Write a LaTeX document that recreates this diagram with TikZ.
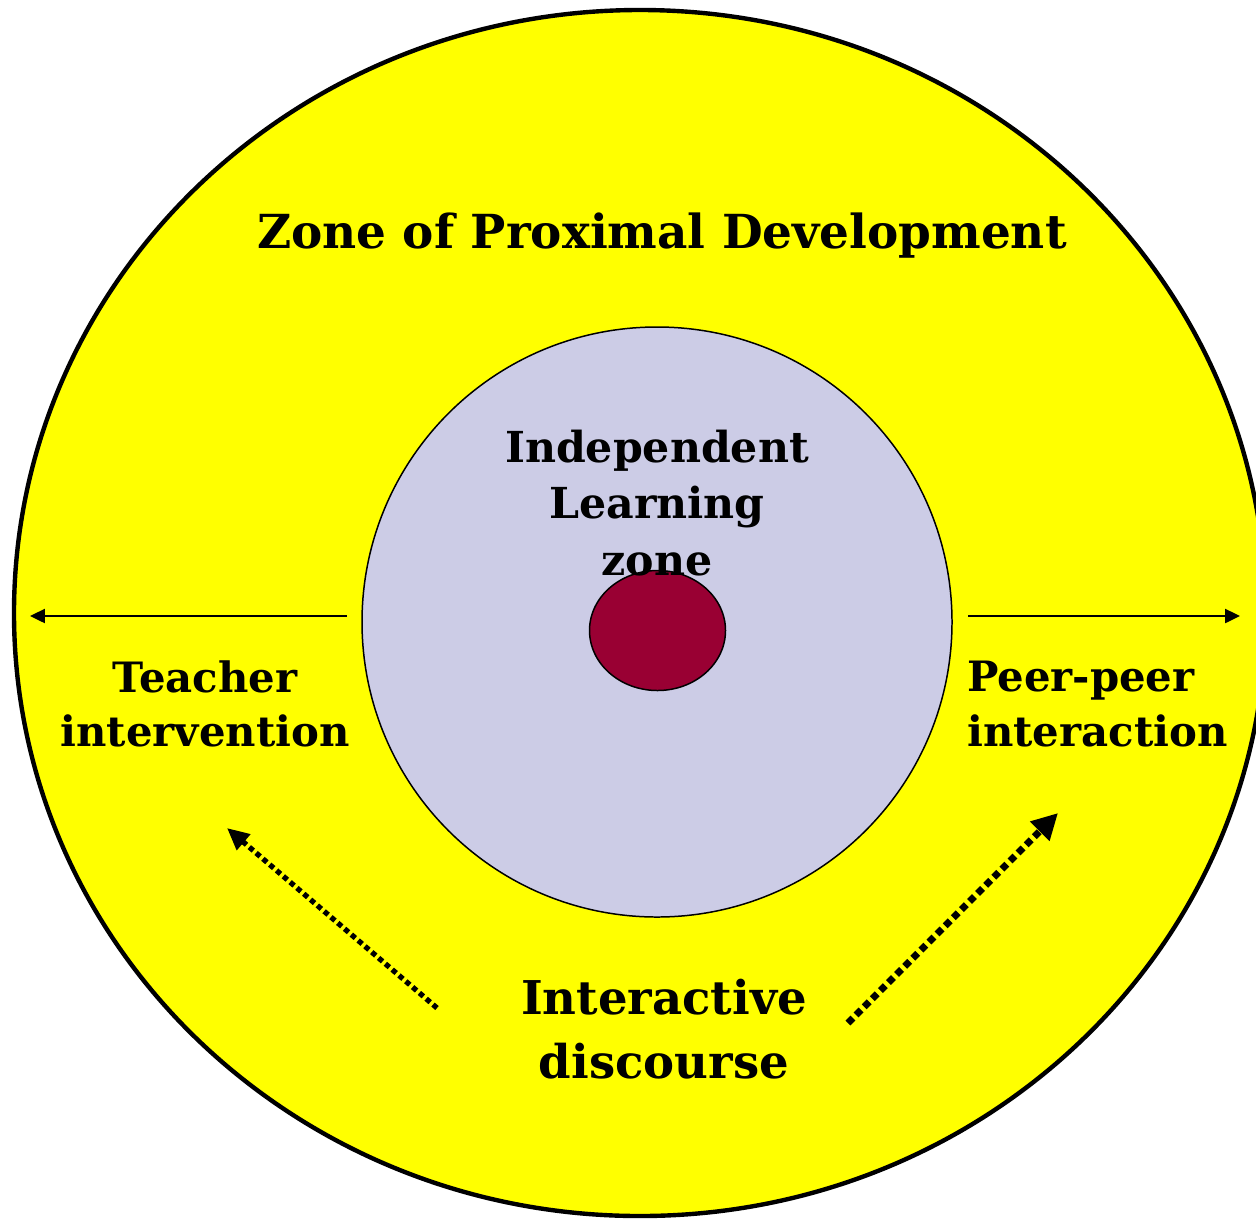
\documentclass[tikz,border=0pt]{standalone}
\usepackage{fontspec}
\setmainfont{DejaVu Serif}
\usetikzlibrary{arrows.meta}

\definecolor{zpdyellow}{RGB}{255,255,0}
\definecolor{ilzlavender}{RGB}{204,204,230}
\definecolor{coremaroon}{RGB}{153,0,51}

\tikzset{
  label text/.style={align=center, font=\fontsize{23.8}{31}\selectfont\bfseries},
  side arrow/.style={line width=1.13pt, -{Triangle[length=8.5pt, width=8pt]}}
}

\begin{document}
\begin{tikzpicture}[x=0.02cm, y=-0.02cm]
  \useasboundingbox (0,0) rectangle (1256,1221);
  \clip (0,0) rectangle (1256,1221);

  % Define zones
  \draw[line width=2.5pt, fill=zpdyellow] (640,613) ellipse [x radius=626, y radius=603];
  \draw[line width=0.85pt, fill=ilzlavender] (657,622) circle [radius=295];
  \draw[line width=0.85pt, fill=coremaroon] (657.5,630.5) ellipse [x radius=68, y radius=60];

  % Labels
  \node[label text, font=\fontsize{26.7}{34}\selectfont\bfseries] (zpd) at (662,236) {Zone of Proximal Development};
  \node[label text, font=\fontsize{24.3}{32}\selectfont\bfseries] (ilz) at (657,503) {Independent\\Learning\\zone};
  \node[label text] (teacher) at (205,704) {Teacher\\intervention};
  \node[label text, align=left, anchor=west] (peer) at (961,704) {Peer-peer\\interaction};
  \node[label text, font=\fontsize{26.5}{36.3}\selectfont\bfseries] (discourse) at (664,1029) {Interactive\\discourse};

  % Define arrow ends
  \coordinate (tl0) at (347,616);
  \coordinate (tl1) at (30,616);
  \coordinate (pr0) at (968,616);
  \coordinate (pr1) at (1240,616);
  \coordinate (dl0) at (437,1008);
  \coordinate (dl1) at (227,828);
  \coordinate (dr0) at (848,1023);
  \coordinate (dr1) at (1058,813);

  % Draw arrows
  \draw[side arrow] (tl0) -- (tl1);
  \draw[side arrow] (pr0) -- (pr1);
  \draw[line width=3pt, dash pattern=on 3pt off 2.1pt, -{Triangle[length=12.5pt, width=11.3pt]}] (dl0) -- (dl1);
  \draw[line width=3.97pt, dash pattern=on 3.97pt off 2.55pt, -{Triangle[length=14.7pt, width=14.7pt]}] (dr0) -- (dr1);
\end{tikzpicture}
\end{document}
